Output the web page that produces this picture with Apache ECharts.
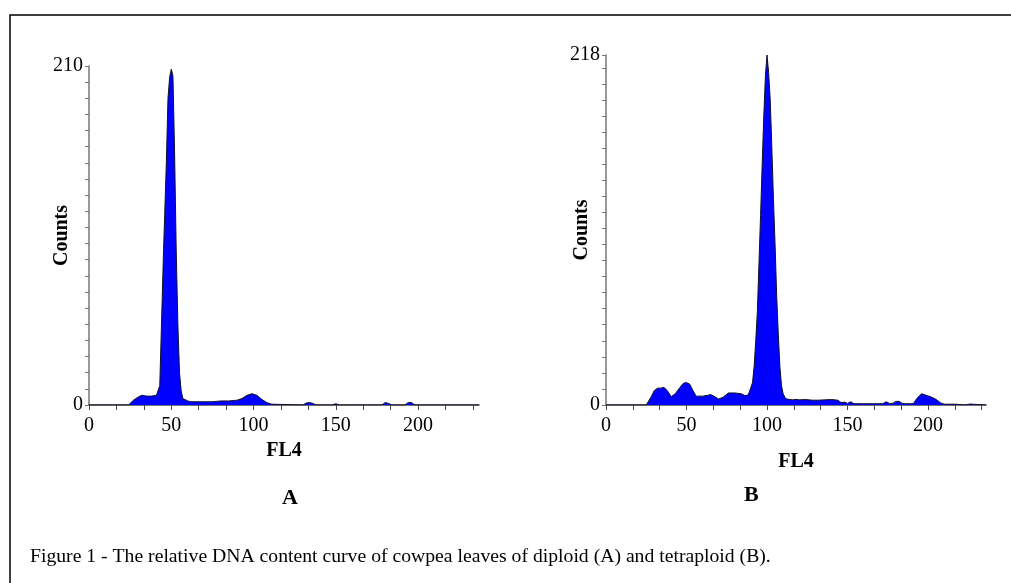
<!DOCTYPE html>
<html>
<head>
<meta charset="utf-8">
<script src="https://cdn.jsdelivr.net/npm/echarts@6/dist/echarts.min.js"></script>
<style>
  html, body { margin: 0; padding: 0; background: #fff; }
  #chart { width: 1011px; height: 583px; }
</style>
</head>
<body>
<div id="chart"></div>
<script>
// diploid (A) histogram, FL4 channel vs counts
const channelsA = [0, 24, 25, 27, 30, 32, 35, 38, 41, 42, 43, 44, 45, 45.5, 46, 47, 48, 49, 50, 50.5, 51, 52, 53, 54, 55, 56, 57, 58, 60, 62, 65, 70, 75, 80, 85, 90, 93, 96, 99, 102, 105, 108, 111, 112, 130, 132, 134, 136, 138, 148, 150, 152, 178, 180, 182, 184, 192, 194, 196, 198, 237]
const countsA = [0, 0, 1, 3, 5, 6, 5.5, 5.5, 6, 7, 12, 48, 85, 102, 118, 150, 190, 203, 208, 209, 204, 157, 96, 50, 20, 9, 4, 3, 2.5, 2, 2, 2, 2, 2.5, 2.5, 3, 4, 6, 7, 6, 3.5, 1.5, 0.5, 0, 0, 1.2, 1.5, 1, 0, 0, 0.8, 0, 0, 1.5, 1, 0, 0, 1.5, 1.5, 0, 0]

// tetraploid (B) histogram
const channelsB = [0, 25, 26, 28, 30, 32, 34, 36, 38, 40.5, 43, 46, 48, 50, 52, 54, 56, 60, 63, 65, 67, 70, 73, 76, 80, 84, 86, 88, 89, 90, 91, 92, 93, 94, 95, 96, 97, 98, 99, 100, 101, 102, 103, 104, 105, 106, 107, 108, 109, 110, 111.5, 113, 116, 118, 120, 124, 128, 132, 136, 140, 144, 146, 148, 150, 152, 154, 160, 166, 172, 174, 176, 178, 180, 182, 184, 186, 187, 189, 191, 193, 196, 199, 202, 205, 208, 210, 217, 218, 223, 224, 226, 227, 236]
const countsB = [0, 0, 1, 5, 9, 10.5, 10.5, 11, 9, 5.2, 7, 11, 13.5, 14, 13, 9, 5.5, 5.5, 6, 6.5, 5.5, 3.7, 5, 7.5, 7.5, 7, 6, 6, 8, 11, 14, 24, 40, 58, 88, 118, 150, 180, 205, 218, 207, 190, 160, 128, 100, 68, 44, 24, 12, 7, 4, 3.6, 3.2, 3.5, 3.2, 3.4, 3, 3, 3.2, 3.4, 3, 1.5, 1.8, 1, 2, 0.8, 0.8, 0.8, 0.8, 2, 1, 1, 2.2, 2.3, 1, 0.8, 2, 0.8, 1, 4, 7, 6, 5, 3.5, 1.2, 0.5, 0.5, 0, 0, 0.6, 0.6, 0, 0]

const xTicks = [0, 16.667, 33.333, 50, 66.667, 83.333, 100, 116.667, 133.333, 150, 166.667, 183.333, 200, 216.667, 233.333]
const xLabels = [0, 50, 100, 150, 200]

const serif = '"Liberation Serif", "DejaVu Serif", serif'

function pairs(xs, ys) {
  return xs.map((x, i) => [x, ys[i]])
}

function xAxisOf(gridIndex, max, gap) {
  return {
    type: 'value', gridIndex: gridIndex, min: 0, max: max, interval: 50,
    name: 'FL4', nameLocation: 'middle', nameGap: gap,
    nameTextStyle: { fontFamily: serif, fontWeight: 'bold', fontSize: 20, color: '#000' },
    axisLine: { show: true, lineStyle: { color: '#444', width: 1.5 } },
    axisTick: { show: true, length: 5, customValues: xTicks, lineStyle: { color: '#444' } },
    axisLabel: { customValues: xLabels, margin: 11, fontFamily: serif, fontSize: 20, color: '#000' },
    splitLine: { show: false }
  }
}

function yAxisOf(gridIndex, max, gap) {
  return {
    type: 'value', gridIndex: gridIndex, min: 0, max: max, interval: 10,
    name: 'Counts', nameLocation: 'middle', nameGap: gap, nameRotate: 90,
    nameMoveOverlap: false,
    nameTextStyle: { fontFamily: serif, fontWeight: 'bold', fontSize: 20, color: '#000' },
    axisLine: { show: true, lineStyle: { color: '#777', width: 1.5 } },
    axisTick: { show: true, length: 4, lineStyle: { color: '#777' } },
    axisLabel: { customValues: [0, max], margin: 6, fontFamily: serif, fontSize: 20, color: '#000' },
    splitLine: { show: false }
  }
}

function histSeries(idx, data) {
  return {
    type: 'line', xAxisIndex: idx, yAxisIndex: idx, data: data,
    showSymbol: false, symbol: 'none', smooth: false,
    lineStyle: { color: '#10102a', width: 1 },
    areaStyle: { color: '#0000ff', opacity: 1 }
  }
}

const chart = echarts.init(document.getElementById('chart'))
chart.setOption({
  backgroundColor: '#fff',
  animation: false,
  grid: [
    { left: 89, top: 66, width: 390, height: 339 },
    { left: 606, top: 55, width: 380, height: 350 }
  ],
  xAxis: [xAxisOf(0, 237, 34), xAxisOf(1, 236, 47)],
  yAxis: [yAxisOf(0, 210, 17), yAxisOf(1, 218, 14)],
  series: [
    histSeries(0, pairs(channelsA, countsA)),
    histSeries(1, pairs(channelsB, countsB))
  ],
  graphic: [
    {
      type: 'polyline', silent: true,
      shape: { points: [[10, 600], [10, 15], [1020, 15]] },
      style: { stroke: '#000', lineWidth: 1.5, fill: null }
    },
    {
      type: 'text', left: 282, top: 487,
      style: { text: 'A', font: 'bold 22px ' + serif, fill: '#000' }
    },
    {
      type: 'text', left: 744, top: 484,
      style: { text: 'B', font: 'bold 22px ' + serif, fill: '#000' }
    },
    {
      type: 'text', left: 30, top: 547,
      style: { text: 'Figure 1 - The relative DNA content curve of cowpea leaves of diploid (A) and tetraploid (B).', font: '19.7px ' + serif, fill: '#000' }
    }
  ]
})
</script>
</body>
</html>
